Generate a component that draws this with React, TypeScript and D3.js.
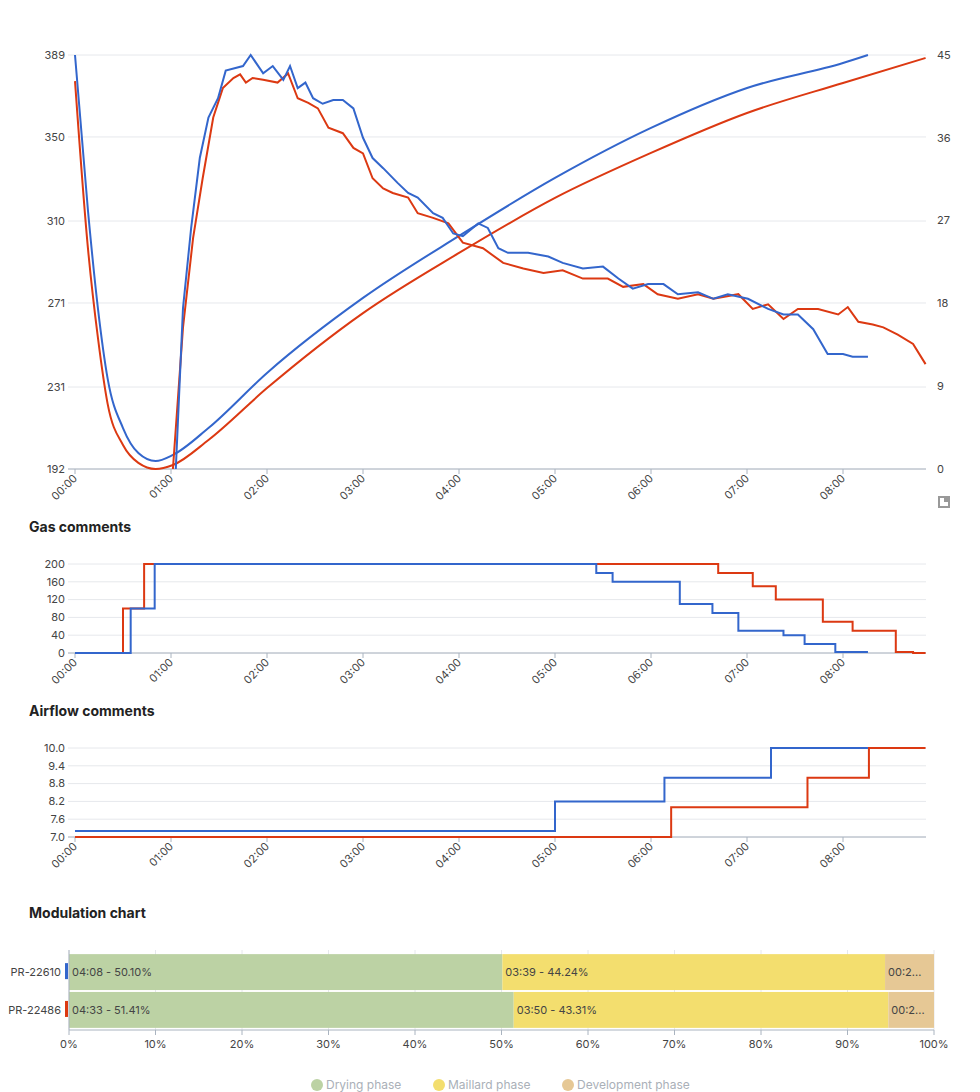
import React from "react";
import * as d3 from "d3";

const timeTicks = [0, 1, 2, 3, 4, 5, 6, 7, 8];
const tempTicks = [192, 231, 271, 310, 350, 389];
const rorTicks = [0, 9, 18, 27, 36, 45];
const gasTicks = [0, 40, 80, 120, 160, 200];
const airTicks = [7.0, 7.6, 8.2, 8.8, 9.4, 10.0];
const pctTicks = [0, 10, 20, 30, 40, 50, 60, 70, 80, 90, 100];

// [minutes, value]
const btBlue: [number, number][] = [[0,389],[0.135,315],[0.24,268],[0.34,235],[0.5,211.5],[0.66,199.6],[0.84,195.8],[1.02,198.7],[1.39,211.5],[2,237.7],[3,273.4],[4,302.9],[5,330.5],[6,354.3],[7,373.3],[8,385.2],[8.26,389]];
const btRed: [number, number][] = [[0,376.6],[0.135,297],[0.24,254],[0.34,223],[0.5,203.4],[0.66,194.9],[0.84,192],[1.02,193.9],[1.39,205.8],[2,230.5],[3,266.2],[4,294.8],[5,321],[6,342.4],[7,361.4],[8,375.7],[8.86,387.6]];
const rorBlue: [number, number][] = [[1.05,0],[1.125,17.5],[1.21,26.2],[1.3,33.8],[1.39,38.2],[1.49,40.3],[1.57,43.3],[1.75,43.8],[1.83,45],[1.96,43],[2.06,43.8],[2.17,42.3],[2.24,43.8],[2.32,41.4],[2.4,42],[2.48,40.3],[2.58,39.7],[2.69,40.1],[2.79,40.1],[2.9,39.2],[3,36],[3.1,33.8],[3.21,32.7],[3.36,31.1],[3.47,30],[3.57,29.5],[3.73,27.8],[3.83,27.3],[3.94,25.6],[4.04,25.3],[4.2,26.7],[4.3,26.2],[4.41,24],[4.51,23.5],[4.72,23.5],[4.93,23.1],[5.08,22.4],[5.29,21.8],[5.5,22],[5.66,20.7],[5.81,19.6],[5.97,20.1],[6.13,20.1],[6.28,19],[6.49,19.2],[6.65,18.5],[6.8,19],[7.01,18.5],[7.22,17.4],[7.38,16.8],[7.53,16.8],[7.69,15.2],[7.84,12.5],[8,12.5],[8.1,12.2],[8.26,12.2]];
const rorRed: [number, number][] = [[1.02,0],[1.125,15.4],[1.23,25.1],[1.33,31.6],[1.44,38.2],[1.54,41.4],[1.65,42.5],[1.72,42.9],[1.78,42],[1.85,42.5],[1.96,42.3],[2.11,42],[2.22,43],[2.32,40.3],[2.43,39.8],[2.53,39.2],[2.64,37.1],[2.79,36.5],[2.9,34.9],[3,34.3],[3.1,31.6],[3.21,30.5],[3.31,30],[3.47,29.5],[3.57,27.8],[3.73,27.3],[3.89,26.7],[4.04,24.6],[4.25,24],[4.46,22.4],[4.67,21.8],[4.88,21.3],[5.08,21.6],[5.29,20.7],[5.55,20.7],[5.71,19.8],[5.92,20.1],[6.07,19],[6.28,18.5],[6.49,19],[6.65,18.5],[6.91,19],[7.06,17.4],[7.22,17.9],[7.38,16.3],[7.53,17.4],[7.74,17.4],[7.95,16.8],[8.05,17.6],[8.16,16],[8.31,15.7],[8.42,15.4],[8.57,14.6],[8.73,13.6],[8.86,11.4]];
const gasBlue: [number, number][] = [[0,0],[0.58,100],[0.83,200],[5.43,180],[5.6,160],[6.3,110],[6.64,90],[6.91,50],[7.38,40],[7.6,20],[7.92,2],[8.26,2]];
const gasRed: [number, number][] = [[0,0],[0.5,100],[0.72,200],[6.7,180],[7.06,150],[7.3,120],[7.79,70],[8.1,50],[8.55,2],[8.73,0],[8.86,0]];
const airBlue: [number, number][] = [[0,7.2],[5.0,8.2],[6.14,9.0],[7.25,10.0],[8.26,10.0]];
const airRed: [number, number][] = [[0,7.0],[6.21,8.0],[7.63,9.0],[8.27,10.0],[8.86,10.0]];

const rows = ["PR-22610", "PR-22486"];
const rowColors = ["#3366cc", "#dc3912"];
const phases = ["Drying phase", "Maillard phase", "Development phase"];
const phaseColors = ["#bcd2a4", "#f3de6e", "#e6c895"];
const phasePct = [[50.10, 44.24, 5.66], [51.41, 43.31, 5.28]];
const phaseLabels = [["04:08 - 50.10%", "03:39 - 44.24%", "00:2..."], ["04:33 - 51.41%", "03:50 - 43.31%", "00:2..."]];

const BLUE = "#3366cc";
const RED = "#dc3912";
const FONT = "Inter, 'Noto Sans', sans-serif";
const TXT = "#444";
const GRID = "#e6e8ec";
const AXIS = "#aab4c0";

const fmt = (m: number) => `0${m}:00`;

const x = d3.scaleLinear().domain([0, 1]).range([67, 163]);

function XAxis({ y }: { y: number }) {
  return (
    <g>
      <line x1={60} x2={918} y1={y} y2={y} stroke={AXIS} />
      {timeTicks.map((t) => (
        <g key={t} transform={`translate(${x(t)},${y})`}>
          <line y2={5} stroke={AXIS} />
          <text transform="translate(3,10) rotate(-45)" textAnchor="end" fontSize={11} fill={TXT}>{fmt(t)}</text>
        </g>
      ))}
    </g>
  );
}

export default function App() {
  const yT = d3.scaleLinear().domain([192, 389]).range([461, 47]);
  const yR = d3.scaleLinear().domain([0, 45]).range([461, 47]);
  const yG = d3.scaleLinear().domain([0, 200]).range([645, 556]);
  const yA = d3.scaleLinear().domain([7, 10]).range([829, 740]);
  const xP = d3.scaleLinear().domain([0, 100]).range([61, 926]);
  const yRow = d3.scaleBand().domain(rows).range([945, 1021]).paddingInner(0.05).paddingOuter(0.03);

  const smooth = (ys: d3.ScaleLinear<number, number>) => d3.line<[number, number]>().x((d) => x(d[0])).y((d) => ys(d[1])).curve(d3.curveMonotoneX);
  const lin = (ys: d3.ScaleLinear<number, number>) => d3.line<[number, number]>().x((d) => x(d[0])).y((d) => ys(d[1]));
  const step = (ys: d3.ScaleLinear<number, number>) => d3.line<[number, number]>().x((d) => x(d[0])).y((d) => ys(d[1])).curve(d3.curveStepAfter);

  const grid = (ticks: number[], ys: (v: number) => number, label: (v: number) => string, right?: (v: number) => string) =>
    ticks.map((t, i) => (
      <g key={i}>
        <line x1={60} x2={918} y1={ys(t)} y2={ys(t)} stroke={GRID} />
        <text x={57} y={ys(t)} dy="0.35em" textAnchor="end" fontSize={11} fill={TXT}>{label(t)}</text>
      </g>
    ));

  let cum: number[][] = phasePct.map((r) => {
    let c = 0;
    return r.map((v) => { const s = c; c += v; return s; });
  });

  return (
    <svg width={964} height={1084} style={{ display: "block", fontFamily: FONT }}>
      <rect width={964} height={1084} fill="#fff" />
      {/* Top chart */}
      {grid(tempTicks, yT, (v) => String(v))}
      {rorTicks.map((t) => (
        <text key={t} x={929} y={yR(t)} dy="0.35em" fontSize={11} fill={TXT}>{t}</text>
      ))}
      <XAxis y={461} />
      <path d={smooth(yT)(btRed)!} fill="none" stroke={RED} strokeWidth={2} />
      <path d={smooth(yT)(btBlue)!} fill="none" stroke={BLUE} strokeWidth={2} />
      <path d={lin(yR)(rorRed)!} fill="none" stroke={RED} strokeWidth={2} />
      <path d={lin(yR)(rorBlue)!} fill="none" stroke={BLUE} strokeWidth={2} />
      <path d="M930,488 h12 v12 h-12 z M932,490 v8 h8 v-4 h-4 v-4 z" fill="#999" fillRule="evenodd" />

      {/* Gas */}
      <text x={21} y={524} fontSize={14} fontWeight={700} fill="#222">Gas comments</text>
      {grid(gasTicks, yG, (v) => String(v))}
      <XAxis y={645} />
      <path d={step(yG)(gasRed)!} fill="none" stroke={RED} strokeWidth={2} />
      <path d={step(yG)(gasBlue)!} fill="none" stroke={BLUE} strokeWidth={2} />

      {/* Airflow */}
      <text x={21} y={708} fontSize={14} fontWeight={700} fill="#222">Airflow comments</text>
      {grid(airTicks, yA, (v) => v.toFixed(1))}
      <XAxis y={829} />
      <path d={step(yA)(airRed)!} fill="none" stroke={RED} strokeWidth={2} />
      <path d={step(yA)(airBlue)!} fill="none" stroke={BLUE} strokeWidth={2} />

      {/* Modulation */}
      <text x={21} y={910} fontSize={14} fontWeight={700} fill="#222">Modulation chart</text>
      {pctTicks.map((p) => (
        <g key={p}>
          <line x1={xP(p)} x2={xP(p)} y1={942} y2={1022} stroke={GRID} />
          <line x1={xP(p)} x2={xP(p)} y1={1022} y2={1027} stroke={AXIS} />
          <text x={xP(p)} y={1040} textAnchor="middle" fontSize={11} fill={TXT}>{p}%</text>
        </g>
      ))}
      {rows.map((r, ri) => (
        <g key={r}>
          {phasePct[ri].map((v, pi) => (
            <g key={pi}>
              <rect x={xP(cum[ri][pi])} y={yRow(r)!} width={xP(cum[ri][pi] + v) - xP(cum[ri][pi])} height={yRow.bandwidth()} fill={phaseColors[pi]} />
              <text x={xP(cum[ri][pi]) + 3} y={yRow(r)! + yRow.bandwidth() / 2} dy="0.35em" fontSize={11} fill={TXT}>{phaseLabels[ri][pi]}</text>
            </g>
          ))}
          <rect x={57} y={yRow(r)! + 9} width={3} height={16} fill={rowColors[ri]} />
          <text x={53} y={yRow(r)! + yRow.bandwidth() / 2} dy="0.35em" textAnchor="end" fontSize={11} fill={TXT}>{r}</text>
        </g>
      ))}
      <line x1={61} x2={61} y1={942} y2={1022} stroke={AXIS} />
      <line x1={61} x2={926} y1={1022} y2={1022} stroke={AXIS} />
      {phases.map((p, i) => {
        const lx = [309, 431, 560][i];
        return (
          <g key={p}>
            <circle cx={lx} cy={1077} r={6} fill={phaseColors[i]} />
            <text x={lx + 9} y={1077} dy="0.35em" fontSize={12} fill="#aab0b8">{p}</text>
          </g>
        );
      })}
    </svg>
  );
}
